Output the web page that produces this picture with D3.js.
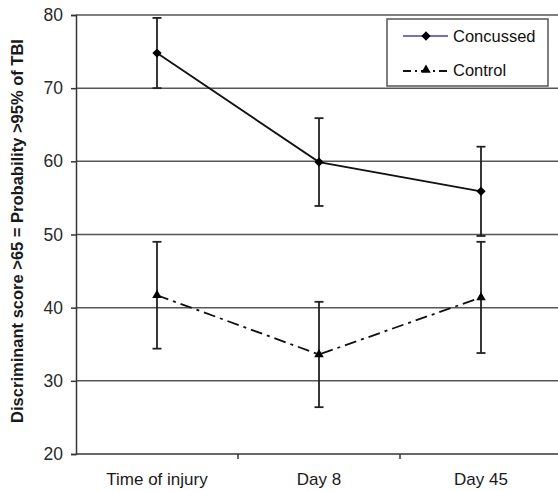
<!DOCTYPE html>
<html><head><meta charset="utf-8">
<script src="https://cdn.jsdelivr.net/npm/d3@7"></script>
<style>
html,body{margin:0;padding:0;background:#fff;}
svg{display:block;font-family:"Liberation Sans",Arial,sans-serif;}
</style></head>
<body><svg id="c" width="558" height="491"></svg>
<script>
const categories = ["Time of injury", "Day 8", "Day 45"];
const concussed = [74.8, 59.9, 55.9];
const concussedErr = [4.8, 6.0, 6.1];
const control = [41.7, 33.6, 41.4];
const controlErr = [7.3, 7.2, 7.6];
const yTicks = [20, 30, 40, 50, 60, 70, 80];
const seriesNames = ["Concussed", "Control"];

const svg = d3.select("#c");
const m = {l: 76, t: 15, r: 562, b: 454};
const x = d3.scaleBand().domain(categories).range([m.l, m.r]);
const y = d3.scaleLinear().domain([20, 80]).range([m.b, m.t]);
const cx = d => x(d) + x.bandwidth() / 2;
const dark = "#3a3535";

// gridlines
svg.append("g").selectAll("line").data(yTicks.filter(v => v > 20)).join("line")
  .attr("x1", m.l).attr("x2", 558).attr("y1", d => y(d)).attr("y2", d => y(d))
  .attr("stroke", "#5a5555").attr("stroke-width", 1.5);

// y axis
const ya = svg.append("g").attr("transform", `translate(${m.l},0)`)
  .call(d3.axisLeft(y).tickValues(yTicks).tickSize(5).tickPadding(8));
ya.select(".domain").attr("stroke", dark).attr("stroke-width", 1.5);
ya.selectAll(".tick line").attr("stroke", dark).attr("stroke-width", 1.5);
ya.selectAll("text").attr("font-size", 17.5).attr("fill", "#2a2a2a");

// x axis
const xa = svg.append("g").attr("transform", `translate(0,${m.b})`)
  .call(d3.axisBottom(x).tickSize(0).tickPadding(19));
xa.select(".domain").attr("stroke", dark).attr("stroke-width", 1.5).attr("d", `M${m.l},0H558`);
xa.selectAll("text").attr("font-size", 17).attr("fill", "#1a1a1a");
svg.append("g").selectAll("line").data(categories.slice(1)).join("line")
  .attr("x1", d => x(d)).attr("x2", d => x(d)).attr("y1", m.b).attr("y2", m.b + 5)
  .attr("stroke", dark).attr("stroke-width", 1.5);

// y label
svg.append("text").attr("transform", `translate(23,231) rotate(-90)`)
  .attr("text-anchor", "middle").attr("font-size", 16.5).attr("font-weight", "bold")
  .attr("fill", "#1a1a1a").text("Discriminant score >65 = Probability >95% of TBI");

function errBars(vals, errs) {
  const g = svg.append("g");
  vals.forEach((v, i) => {
    const xx = cx(categories[i]);
    g.append("line").attr("x1", xx).attr("x2", xx).attr("y1", y(v + errs[i])).attr("y2", y(v - errs[i]))
      .attr("stroke", "#222").attr("stroke-width", 1.8);
    [v + errs[i], v - errs[i]].forEach(e => g.append("line")
      .attr("x1", xx - 4.5).attr("x2", xx + 4.5).attr("y1", y(e)).attr("y2", y(e))
      .attr("stroke", "#222").attr("stroke-width", 1.8));
  });
}
errBars(concussed, concussedErr);
errBars(control, controlErr);

const line = d3.line().x((d, i) => cx(categories[i])).y(d => y(d));
svg.append("path").attr("d", line(concussed)).attr("fill", "none").attr("stroke", "#111").attr("stroke-width", 1.8);
svg.append("path").attr("d", line(control)).attr("fill", "none").attr("stroke", "#111").attr("stroke-width", 1.8)
  .attr("stroke-dasharray", "12,5,3,5");

const diamond = d3.symbol().type(d3.symbolDiamond2).size(55);
const tri = d3.symbol().type(d3.symbolTriangle2).size(65);
svg.append("g").selectAll("path").data(concussed).join("path")
  .attr("d", diamond).attr("transform", (d, i) => `translate(${cx(categories[i])},${y(d)})`).attr("fill", "#000");
svg.append("g").selectAll("path").data(control).join("path")
  .attr("d", tri).attr("transform", (d, i) => `translate(${cx(categories[i])},${y(d)})`).attr("fill", "#000");

// legend
const lg = svg.append("g");
lg.append("rect").attr("x", 387).attr("y", 19).attr("width", 161).attr("height", 67)
  .attr("fill", "#fff").attr("stroke", "#555").attr("stroke-width", 1.5);
lg.append("line").attr("x1", 403).attr("x2", 448).attr("y1", 36).attr("y2", 36)
  .attr("stroke", "#4a3fa0").attr("stroke-width", 1.5);
lg.append("path").attr("d", diamond).attr("transform", "translate(426,36)").attr("fill", "#000");
lg.append("line").attr("x1", 403).attr("x2", 448).attr("y1", 71).attr("y2", 71)
  .attr("stroke", "#111").attr("stroke-width", 1.8).attr("stroke-dasharray", "8,4,2,4");
lg.append("path").attr("d", tri).attr("transform", "translate(426,70)").attr("fill", "#000");
lg.selectAll("text").data(seriesNames).join("text")
  .attr("x", 453).attr("y", (d, i) => i === 0 ? 42 : 76)
  .attr("font-size", 16.5).attr("fill", "#111").text(d => d);
</script></body></html>
